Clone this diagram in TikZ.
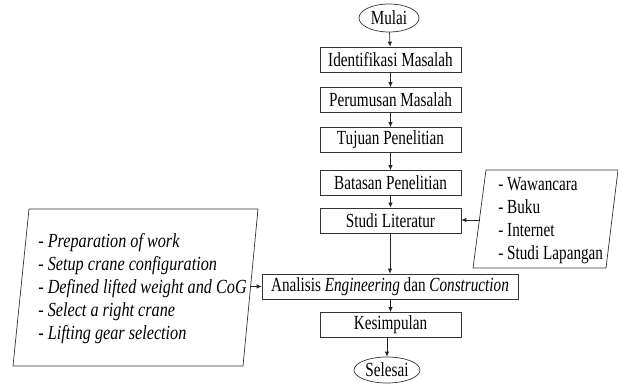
\documentclass[tikz,border=0pt]{standalone}
\usepackage{fontspec}
\setmainfont{Liberation Serif}
\usepackage{graphicx}
\usetikzlibrary{arrows.meta,shapes.geometric}
\newcommand{\nrw}[1]{\scalebox{0.76}[1]{#1}}
\newcommand{\nrwl}[1]{\scalebox{0.81}[1]{#1}}
\begin{document}
\begin{tikzpicture}[x=1pt,y=-1pt,
  line width=0.7pt,
  every node/.style={text=black},
  procbox/.style={draw=black!80,rectangle,minimum width=141pt,minimum height=25pt,inner sep=0pt,font=\fontsize{20}{23}\selectfont},
  termnode/.style={draw=black!80,ellipse,inner sep=0pt,font=\fontsize{20}{23}\selectfont},
  listtext/.style={align=left,inner sep=0pt,anchor=west},
  flow/.style={draw=black!85,-{Latex[length=5pt,width=4.5pt]}}
]
\useasboundingbox (0,0) rectangle (618,383);
% terminals and process boxes
\node[termnode,minimum width=60pt,minimum height=28pt] (mulai) at (389,18) {\nrw{Mulai}};
\node[procbox] (ident) at (390.5,59.5) {\nrw{Identifikasi Masalah}};
\node[procbox] (perum) at (390.5,100) {\nrw{Perumusan Masalah}};
\node[procbox] (tujuan) at (390.5,140) {\nrw{Tujuan Penelitian}};
\node[procbox] (batas) at (390.5,183) {\nrw{Batasan Penelitian}};
\node[procbox] (studi) at (390.5,220.5) {\nrw{Studi Literatur}};
\node[procbox,minimum width=256pt] (anal) at (390,286.5) {\nrw{Analisis \textit{Engineering} dan \textit{Construction}}};
\node[procbox] (kesim) at (390.5,325) {\nrw{Kesimpulan}};
\node[termnode,minimum width=66pt,minimum height=26pt] (selesai) at (387,370) {\nrw{Selesai}};
% right parallelogram
\coordinate (rtl) at (486,170);
\coordinate (rtr) at (618,170);
\coordinate (rbr) at (606,268);
\coordinate (rbl) at (473,268);
\draw[black!80] (rtl) -- (rtr) -- (rbr) -- (rbl) -- cycle;
\node[listtext,font=\fontsize{20}{23}\selectfont] (rlist) at (498,220)
  {\nrw{\begin{tabular}{@{}l@{}}- Wawancara\\- Buku\\- Internet\\- Studi Lapangan\end{tabular}}};
\coordinate (rin) at (480,220);
% left parallelogram
\coordinate (ltl) at (29,209);
\coordinate (ltr) at (258,209);
\coordinate (lbr) at (243,366);
\coordinate (lbl) at (13,366);
\draw[black!80] (ltl) -- (ltr) -- (lbr) -- (lbl) -- cycle;
\node[listtext,font=\fontsize{20}{23}\selectfont\itshape] (llist) at (38,288.5)
  {\nrwl{\begin{tabular}{@{}l@{}}- Preparation of work\\- Setup crane configuration\\- Defined lifted weight and CoG\\- Select a right crane\\- Lifting gear selection\end{tabular}}};
\coordinate (lout) at (250.5,286.5);
% connectors
\draw[flow] (mulai) -- (ident);
\draw[flow] (ident) -- (perum);
\draw[flow] (perum) -- (tujuan);
\draw[flow] (tujuan) -- (batas);
\draw[flow] (batas) -- (studi);
\draw[flow] (studi.south -| anal.north) -- (anal.north);
\draw[flow] (anal.south -| kesim.north) -- (kesim.north);
\draw[flow] (kesim.south -| selesai.north) -- (selesai.north);
\draw[flow] (rin) -- (rin -| studi.east);
\draw[flow] (lout) -- (anal.west);
\end{tikzpicture}
\end{document}
